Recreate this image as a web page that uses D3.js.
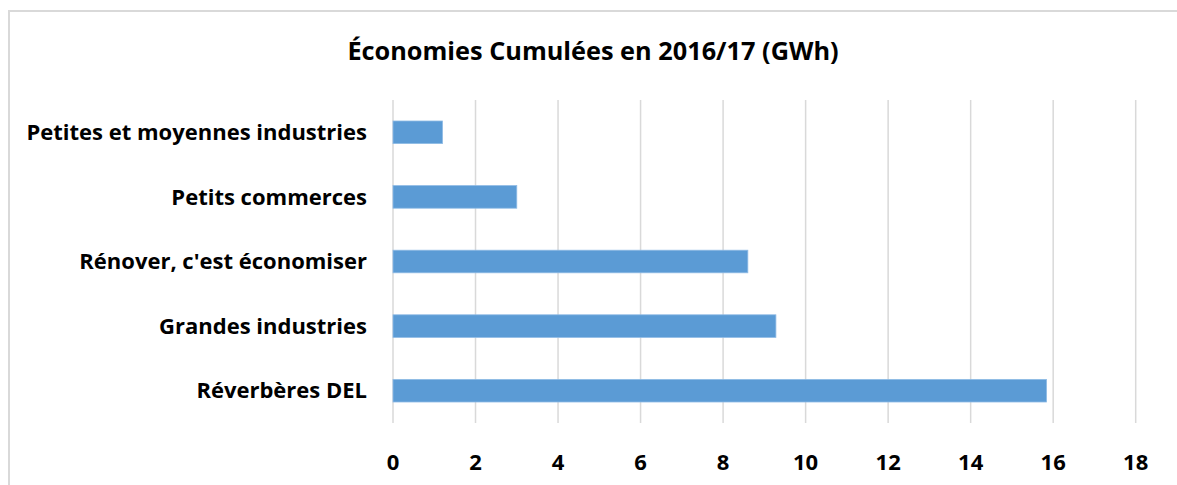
<!DOCTYPE html>
<html><head><meta charset="utf-8">
<script src="https://cdn.jsdelivr.net/npm/d3@7"></script>
<style>body{margin:0;background:#fff;} svg{display:block;}</style>
</head><body>
<script>
const categories = ["Petites et moyennes industries","Petits commerces","Rénover, c'est économiser","Grandes industries","Réverbères DEL"];
const values = [1.2, 3.0, 8.6, 9.28, 15.84];
const ticks = [0,2,4,6,8,10,12,14,16,18];
const title = "Économies Cumulées en 2016/17 (GWh)";

const W = 1177, H = 485;
const svg = d3.select("body").append("svg").attr("width", W).attr("height", H);
const font = "'Open Sans', sans-serif";

svg.append("rect").attr("x", 9).attr("y", 11).attr("width", W + 10).attr("height", H + 10)
  .attr("fill", "#fff").attr("stroke", "#d9d9d9").attr("stroke-width", 2);

const x = d3.scaleLinear().domain([0, 18]).range([393, 1135.7]);
const y = d3.scaleBand().domain(categories).range([100, 423]).paddingInner(0.65).paddingOuter(0.325);

svg.append("g").selectAll("line").data(ticks).join("line")
  .attr("x1", d => x(d)).attr("x2", d => x(d)).attr("y1", 100).attr("y2", 423)
  .attr("stroke", "#d9d9d9").attr("stroke-width", 1.5);

svg.append("g").selectAll("rect").data(categories).join("rect")
  .attr("x", x(0)).attr("y", d => y(d)).attr("height", y.bandwidth())
  .attr("width", (d, i) => x(values[i]) - x(0))
  .attr("fill", "#5b9bd5").attr("stroke", "#8fbbe5").attr("stroke-width", 0.8);

svg.append("g").selectAll("text").data(categories).join("text")
  .attr("x", 367).attr("y", d => y(d) + y.bandwidth() / 2).attr("dy", "0.35em")
  .attr("text-anchor", "end").attr("font-family", font).attr("font-weight", "bold")
  .attr("font-size", 22).attr("fill", "#000").text(d => d);

svg.append("g").selectAll("text").data(ticks).join("text")
  .attr("x", d => x(d)).attr("y", 462).attr("dy", "0.35em")
  .attr("text-anchor", "middle").attr("font-family", font).attr("font-weight", "bold")
  .attr("font-size", 22).attr("fill", "#000").text(d => d);

svg.append("text").attr("x", 593).attr("y", 51).attr("dy", "0.35em")
  .attr("text-anchor", "middle").attr("font-family", font).attr("font-weight", "bold")
  .attr("font-size", 25.3).attr("fill", "#000").text(title);
</script>
</body></html>
